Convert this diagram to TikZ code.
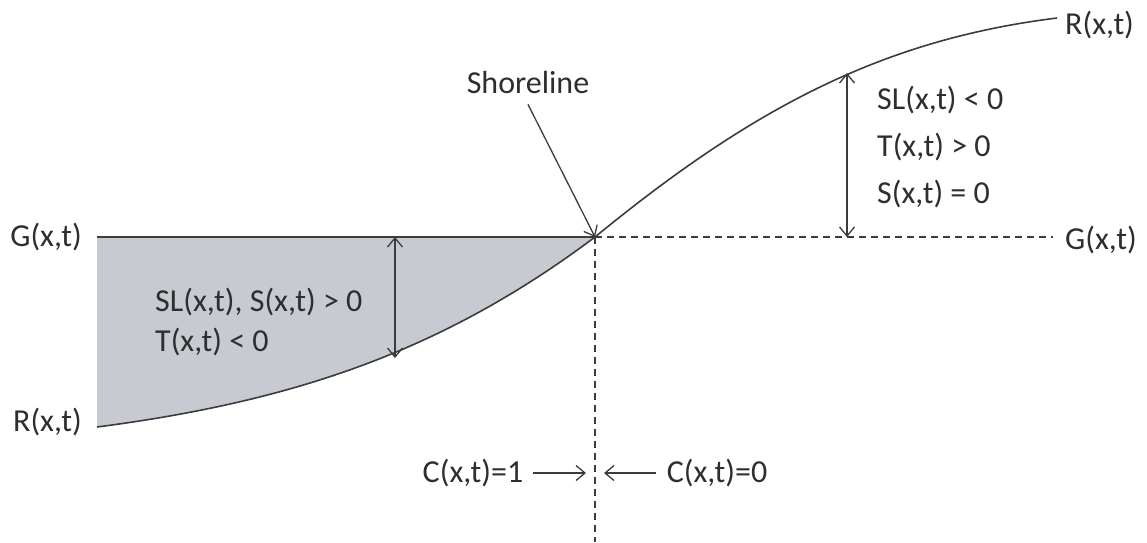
\documentclass[tikz,border=0pt]{standalone}
\usepackage{fontspec}
\setmainfont{Carlito}
\usetikzlibrary{positioning,arrows.meta}
\definecolor{lineclr}{RGB}{60,60,60}
\definecolor{wetclr}{RGB}{200,202,209}
\tikzset{
  lbl/.style={inner sep=0pt, text=black!82,
              font=\fontsize{32}{40}\selectfont},
  surf/.style={draw=lineclr, line width=1.6pt},
  guide/.style={draw=lineclr, line width=1.4pt, dash pattern=on 7pt off 5pt},
  depth/.style={{Straight Barb[length=9pt,width=15pt]}-{Straight Barb[length=9pt,width=15pt]},
                draw=lineclr, line width=1.3pt},
  pointer/.style={-{Straight Barb[length=9pt,width=15pt]}, draw=lineclr, line width=1.3pt},
}

\begin{document}
\begin{tikzpicture}[x=1pt, y=-1pt]
\useasboundingbox (0,0) rectangle (1147,542);

% key points of the profile
\coordinate (gl) at (97,237);
\coordinate (rl) at (97,427);
\coordinate (shore) at (595,237);
\coordinate (rr) at (1057,18);
\coordinate (gr) at (1053,237);
\coordinate (bot) at (595,542);

% wet area below the ground water level
\fill[wetclr] (gl) -- (shore) .. controls (445,349.5) and (297,401) .. (rl) -- cycle;

\draw[surf] (gl) -- (shore);
\draw[surf] (rl) .. controls (297,401) and (445,349.5) .. (shore)
  .. controls (750,110) and (880,40) .. (rr);
\draw[guide] (shore) -- (gr);
\draw[guide] (shore) -- (bot);

% end labels
\node[lbl, left=15pt of gl] (gleft) {G(x,t)};
\node[lbl, left=15pt of rl, yshift=5pt] (rleft) {R(x,t)};
\node[lbl, right=8pt of rr, yshift=-7pt] (rright) {R(x,t)};
\node[lbl, right=12pt of gr, yshift=-3pt] (gright) {G(x,t)};

% shoreline
\node[lbl] (shorelbl) at (528,82) {Shoreline};
\draw[pointer] ([yshift=-11pt]shorelbl.south) -- (shore);

% depths
\coordinate (dltop) at (395,237);
\coordinate (dlbot) at (395,358);
\draw[depth] (dltop) -- (dlbot);
\node[lbl, anchor=west, align=left,
      font=\fontsize{32}{40}\selectfont] (wet) at (155,322)
  {SL(x,t), S(x,t) > 0\\T(x,t) < 0};

\coordinate (drtop) at (847,73);
\coordinate (drbot) at (847,237);
\draw[depth] (drtop) -- (drbot);
\node[lbl, anchor=west, align=left,
      font=\fontsize{32}{47}\selectfont] (dry) at (877,147)
  {SL(x,t) < 0\\T(x,t) > 0\\S(x,t) = 0};

% volume fraction either side
\node[lbl] (cone) at (473,473) {C(x,t)=1};
\coordinate (conetip) at (586,473);
\draw[pointer] ([xshift=10pt]cone.east) -- (conetip);
\node[lbl] (czero) at (717,473) {C(x,t)=0};
\coordinate (czerotip) at (604,473);
\draw[pointer] ([xshift=-11pt]czero.west) -- (czerotip);
\end{tikzpicture}
\end{document}
